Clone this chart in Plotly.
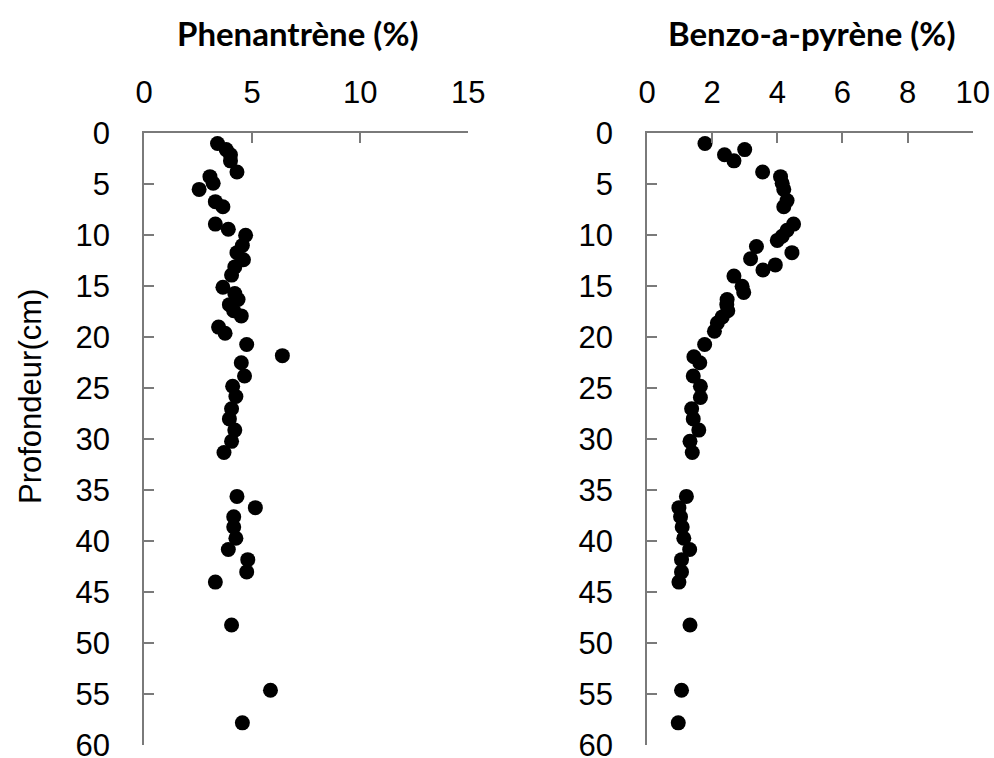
import plotly.graph_objects as go

# Phenantrène (%) vs depth (cm)
depth_phe = [1.0, 1.6, 2.1, 2.7, 3.8, 4.25, 4.9, 5.5, 6.7, 7.2, 8.9, 9.4, 10.0, 11.0, 11.7,
             12.4, 13.1, 13.9, 15.1, 15.7, 16.3, 16.8, 17.4, 17.9, 19.0, 19.6, 20.7, 21.8, 22.5,
             23.8, 24.8, 25.8, 27.0, 28.0, 29.1, 30.2, 31.3, 35.6, 36.7, 37.6, 38.6, 39.7, 40.8,
             41.8, 43.0, 44.0, 48.2, 54.6, 57.8]
phe = [3.4, 3.8, 4.0, 4.0, 4.3, 3.05, 3.2, 2.55, 3.3, 3.65, 3.3, 3.9, 4.7, 4.55, 4.3,
       4.6, 4.2, 4.05, 3.65, 4.2, 4.35, 3.95, 4.15, 4.5, 3.45, 3.75, 4.75, 6.4, 4.5,
       4.65, 4.1, 4.25, 4.05, 3.95, 4.2, 4.05, 3.7, 4.3, 5.15, 4.15, 4.15, 4.25, 3.9,
       4.8, 4.75, 3.3, 4.05, 5.85, 4.55]

# Benzo-a-pyrène (%) vs depth (cm)
depth_bap = [1.0, 1.6, 2.1, 2.7, 3.8, 4.25, 4.9, 5.5, 6.6, 7.2, 8.9, 9.5, 10.1, 10.5, 11.1,
             11.7, 12.3, 12.9, 13.4, 14.0, 15.0, 15.6, 16.3, 16.8, 17.4, 18.0, 18.6, 19.4, 20.7,
             21.9, 22.5, 23.8, 24.8, 25.9, 27.0, 28.0, 29.1, 30.2, 31.3, 35.6, 36.7, 37.6, 38.6,
             39.7, 40.8, 41.8, 43.0, 44.0, 48.2, 54.6, 57.8]
bap = [1.78, 3.0, 2.38, 2.67, 3.55, 4.1, 4.15, 4.2, 4.3, 4.2, 4.5, 4.3, 4.15, 4.0, 3.36,
       4.45, 3.18, 3.94, 3.56, 2.67, 2.92, 2.97, 2.46, 2.45, 2.48, 2.31, 2.16, 2.07, 1.77,
       1.44, 1.62, 1.42, 1.64, 1.64, 1.37, 1.42, 1.59, 1.32, 1.39, 1.21, 0.98, 1.03, 1.08,
       1.13, 1.31, 1.06, 1.06, 0.98, 1.32, 1.06, 0.96]

phe_ticks = [0, 5, 10, 15]
bap_ticks = [0, 2, 4, 6, 8, 10]
depth_ticks = [0, 5, 10, 15, 20, 25, 30, 35, 40, 45, 50, 55, 60]

W, H = 994, 758


def px(xp):
    return xp / W


def py(yp):
    return 1 - yp / H


marker = dict(color="black", size=15, line=dict(width=0))

fig = go.Figure()
fig.add_trace(go.Scatter(x=phe, y=depth_phe, mode="markers", marker=marker,
                         xaxis="x", yaxis="y", showlegend=False, cliponaxis=False))
fig.add_trace(go.Scatter(x=bap, y=depth_bap, mode="markers", marker=marker,
                         xaxis="x2", yaxis="y2", showlegend=False, cliponaxis=False))

axis_line = dict(showline=True, linecolor="#7a7a7a", linewidth=1.5, ticks="inside",
                 ticklen=10, tickwidth=1.5, tickcolor="#7a7a7a", showgrid=False,
                 zeroline=False, automargin=False, ticklabeloverflow="allow",
                 tickfont=dict(family="Liberation Sans", size=31, color="black"))

ydom = [py(745.3), py(133.3)]

fig.update_layout(
    width=W, height=H,
    margin=dict(l=0, r=0, t=0, b=0),
    paper_bgcolor="white", plot_bgcolor="white",
    xaxis=dict(domain=[px(144), px(468.3)], range=[0, 15], tickvals=phe_ticks, side="top",
               anchor="y", ticklabelstandoff=16, **axis_line),
    yaxis=dict(domain=ydom, range=[60, 0], tickvals=depth_ticks, anchor="x",
               ticklabelstandoff=26, **axis_line),
    xaxis2=dict(domain=[px(647), px(972.7)], range=[0, 10], tickvals=bap_ticks, side="top",
                anchor="y2", ticklabelstandoff=16, **axis_line),
    yaxis2=dict(domain=ydom, range=[60, 0], tickvals=depth_ticks, anchor="x2",
                ticklabelstandoff=26, **axis_line),
    annotations=[
        dict(text="<b>Phenantrène (%)</b>", x=px(298), y=py(33), xref="paper", yref="paper",
             showarrow=False, xanchor="center", yanchor="middle",
             font=dict(family="Lato", size=33, color="black")),
        dict(text="<b>Benzo-a-pyrène (%)</b>", x=px(811.7), y=py(33), xref="paper", yref="paper",
             showarrow=False, xanchor="center", yanchor="middle",
             font=dict(family="Lato", size=33, color="black")),
        dict(text="Profondeur(cm)", x=px(30), y=py(397), xref="paper", yref="paper",
             showarrow=False, xanchor="center", yanchor="middle", textangle=-90,
             font=dict(family="Liberation Sans", size=31, color="black")),
    ],
)

# remove the default page margin so the figure fills the 994x758 window exactly
fig.write_html(
    "out.html",
    config={"displayModeBar": False},
    post_script=(
        "document.body.style.margin='0';"
        "document.body.style.overflow='hidden';"
        "document.documentElement.style.overflow='hidden';"
    ),
)
